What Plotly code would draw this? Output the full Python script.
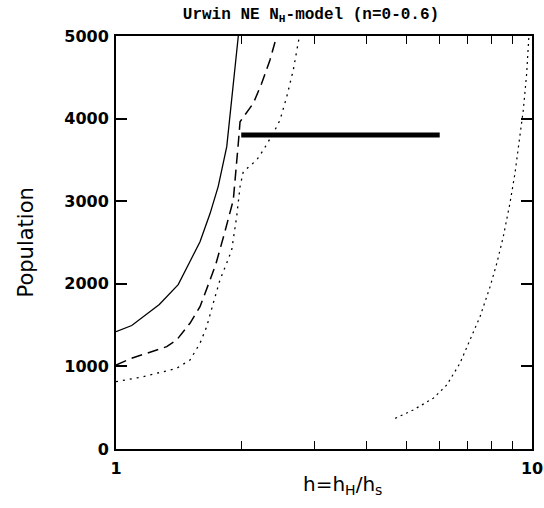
import plotly.graph_objects as go

# Solid model curve
solid_h = [1.0, 1.091, 1.271, 1.411, 1.506, 1.592, 1.683, 1.761, 1.846, 1.898, 1.968]
solid_pop = [1420, 1495, 1750, 1990, 2270, 2510, 2850, 3180, 3660, 4225, 5000]

# Dashed model curve
dash_h = [1.0, 1.09, 1.324, 1.399, 1.506, 1.592, 1.683, 1.740, 1.818, 1.914, 1.968, 1.987, 2.138, 2.240, 2.345, 2.434]
dash_pop = [1017, 1098, 1239, 1320, 1522, 1723, 2046, 2248, 2590, 3014, 3701, 3962, 4185, 4427, 4709, 5000]

# Dotted model curve (left)
dot_h = [1.0, 1.163, 1.399, 1.506, 1.592, 1.652, 1.713, 1.778, 1.858, 1.897, 1.950, 1.987, 2.023, 2.179, 2.261, 2.388, 2.479, 2.573, 2.668, 2.743, 2.76]
dot_pop = [815, 875, 977, 1077, 1280, 1481, 1764, 2046, 2288, 2409, 2812, 3176, 3357, 3499, 3620, 3822, 3983, 4265, 4588, 4911, 5000]

# Dotted curve (right)
dot2_h = [4.69, 5.18, 5.79, 6.24, 6.71, 7.10, 7.50, 7.93, 8.23, 8.53, 8.85, 9.10, 9.35, 9.53, 9.71, 9.80, 9.83]
dot2_pop = [371, 472, 614, 775, 1038, 1320, 1602, 1965, 2248, 2570, 2974, 3337, 3781, 4104, 4548, 4911, 5000]

# Thick horizontal bar
bar_h = [2.0, 6.0]
bar_pop = [3800, 3800]

x_tickvals = [1, 2, 3, 4, 5, 6, 7, 8, 9, 10]
x_ticktext = ["1", "", "", "", "", "", "", "", "", "10"]
y_tickvals = [0, 1000, 2000, 3000, 4000, 5000]

fig = go.Figure()
fig.add_trace(go.Scatter(x=solid_h, y=solid_pop, mode="lines",
                         line=dict(color="black", width=1.3), showlegend=False))
fig.add_trace(go.Scatter(x=dash_h, y=dash_pop, mode="lines",
                         line=dict(color="black", width=1.5, dash="11px,6px"), showlegend=False))
fig.add_trace(go.Scatter(x=dot_h, y=dot_pop, mode="lines",
                         line=dict(color="black", width=1.3, dash="2px,5px"), showlegend=False))
fig.add_trace(go.Scatter(x=dot2_h, y=dot2_pop, mode="lines",
                         line=dict(color="black", width=1.2, dash="2px,4px"), showlegend=False))
fig.add_trace(go.Scatter(x=bar_h, y=bar_pop, mode="lines",
                         line=dict(color="black", width=5), showlegend=False))

fig.update_layout(
    width=544, height=508,
    margin=dict(l=116, r=12, t=36, b=59, autoexpand=False),
    paper_bgcolor="white", plot_bgcolor="white",
    title=dict(text="Urwin NE N<sub>H</sub>-model (n=0-0.6)",
               x=311/544, xref="container", xanchor="center",
               y=1-13/508, yref="container", yanchor="middle",
               font=dict(family="Liberation Mono", size=16, color="black", weight="bold")),
    xaxis=dict(type="log", range=[0, 1], tickvals=x_tickvals, ticktext=x_ticktext,
               ticks="inside", ticklen=8, tickwidth=1.3, tickcolor="black",
               showline=True, linewidth=2, linecolor="black", mirror="allticks",
               showgrid=False, zeroline=False, automargin=False,
               tickfont=dict(family="DejaVu Sans", size=16, color="black", weight="bold"),
               ticklabelstandoff=4),
    yaxis=dict(range=[0, 5000], tickvals=y_tickvals,
               ticks="inside", ticklen=11, tickwidth=1.5, tickcolor="black",
               showline=True, linewidth=2, linecolor="black", mirror="allticks",
               showgrid=False, zeroline=False, automargin=False,
               tickfont=dict(family="DejaVu Sans", size=16, color="black", weight="bold"),
               ticklabelstandoff=2),
    annotations=[
        dict(text="Population", xref="paper", yref="paper",
             x=(25-116)/416, y=0.5, xanchor="center", yanchor="middle",
             textangle=-90, showarrow=False,
             font=dict(family="DejaVu Sans", size=21, color="black")),
        dict(text="h=h<sub>H</sub>/h<sub>s</sub>", xref="paper", yref="paper",
             x=(342-116)/416, y=(449-485)/413, xanchor="center", yanchor="middle",
             showarrow=False,
             font=dict(family="DejaVu Sans", size=20, color="black")),
    ],
)

fig.write_html("out.html")
